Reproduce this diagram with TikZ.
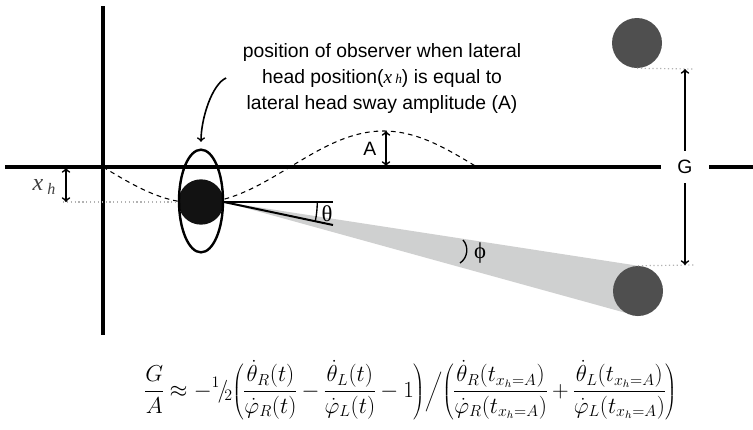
\documentclass[tikz,border=0pt]{standalone}
\usepackage{fontspec}
\setmainfont{Liberation Sans}
\newfontfamily\seriffont{Liberation Serif}
\usepackage{tikz}
\usetikzlibrary{shapes.geometric,backgrounds}
\definecolor{targetgray}{HTML}{4F4F4F}
\definecolor{wedgegray}{HTML}{CFD0D0}

\begin{document}
\begin{tikzpicture}[
    x=0.75pt, y=-0.75pt,
    axis/.style={line width=2.3pt},
    gazeline/.style={line width=1.5pt},
    guide/.style={gray!60, dotted, line width=0.9pt},
    dimarrow/.style={<->, line width=1.3pt},
    target/.style={circle, fill=targetgray, minimum size=37.5pt, inner sep=0pt},
    txt/.style={font=\fontsize{14.5}{19.5}\selectfont},
    greek/.style={font=\fontsize{17}{20}\seriffont}
]
\useasboundingbox (0,0) rectangle (753,429);

\draw[axis] (5,167) -- (753,167);
\draw[axis] (103,6) -- (103,335);
\draw[dashed, dash pattern=on 3.5pt off 3pt, line width=0.8pt]
    plot[domain=103:477, samples=90, smooth] (\x, {167+36*sin((\x-103)*0.9626)});

\node[target] (near) at (637,43) {};
\node[target] (far) at (638,291) {};
\node[circle, fill=black!93, minimum size=34pt, inner sep=0pt] (eye) at (201,202) {};
\node[ellipse, draw, line width=1.8pt, minimum width=33pt, minimum height=77pt, inner sep=0pt] (head) at (201,201) {};

\begin{pgfonlayer}{background}
\fill[wedgegray] (eye.east) -- (far.north) -- (far.south) -- cycle;
\end{pgfonlayer}

\coordinate (flat) at (333,202);
\coordinate (gaze) at (333,225);
\draw[gazeline] (eye.east) -- (flat);
\draw[gazeline] (eye.east) -- (gaze);
\draw[line width=1pt] (eye.east) ++(70pt,0) arc[start angle=0, end angle=-12, radius=70pt];
\node[greek] (theta) at (327,214) {θ};

\coordinate (phitop) at (463,240);
\coordinate (phibot) at (460,263);
\draw[line width=1pt] (phitop) to[bend left=50] (phibot);
\node[greek] (phi) at (480,253) {ϕ};

\node[txt, fill=white, minimum width=36pt, minimum height=24pt] (G) at (685,167) {G};
\coordinate (gtop) at (694,69);
\coordinate (gbot) at (694,265);
\draw[guide] (near.south) -- (gtop);
\draw[guide] (far.north) -- (gbot);
\draw[->, line width=1.3pt] (G.north) -- (G.north |- gtop);
\draw[->, line width=1.3pt] (G.south) -- (G.south |- gbot);

\coordinate (apeak) at (386,131);
\coordinate (abase) at (386,166);
\draw[dimarrow] (abase) -- (apeak);
\node[txt, anchor=east] (A) at (381,149) {A};

\coordinate (xtop) at (66,168);
\coordinate (xbot) at (66,202);
\coordinate (xguide) at (63,202);
\draw[guide] (xguide) -- (eye.west);
\draw[dimarrow] (xtop) -- (xbot);
\node[anchor=east, text=black!75, font=\fontsize{18}{20}\seriffont\itshape] (xh) at (60,187) {x\,\raisebox{-0.3ex}{\fontsize{12}{12}\selectfont h}};

\node[txt, align=center] (note) at (382,78) {position of observer when lateral\\
    head position({\seriffont\itshape x\,\fontsize{10}{10}\selectfont h}) is equal to\\
    lateral head sway amplitude (A)};
\draw[->, line width=1.2pt, shorten >=5pt] ([xshift=-9pt]note.west) .. controls +(-14,6) and +(0,-30) .. (head.north);

\node (formula) at (411,390) {\fontsize{16.5}{20}\selectfont\nulldelimiterspace=0pt
    $\displaystyle \frac{G}{A} \approx -{}^{1\!}/\!_{2}\!
    \left.\left(\frac{\dot\theta_R(t)}{\dot\varphi_R(t)} - \frac{\dot\theta_L(t)}{\dot\varphi_L(t)} - 1\right)
    \middle/
    \left(\frac{\dot\theta_R(t_{x_h=A})}{\dot\varphi_R(t_{x_h=A})} + \frac{\dot\theta_L(t_{x_h=A})}{\dot\varphi_L(t_{x_h=A})}\right)\right.$};
\end{tikzpicture}
\end{document}
